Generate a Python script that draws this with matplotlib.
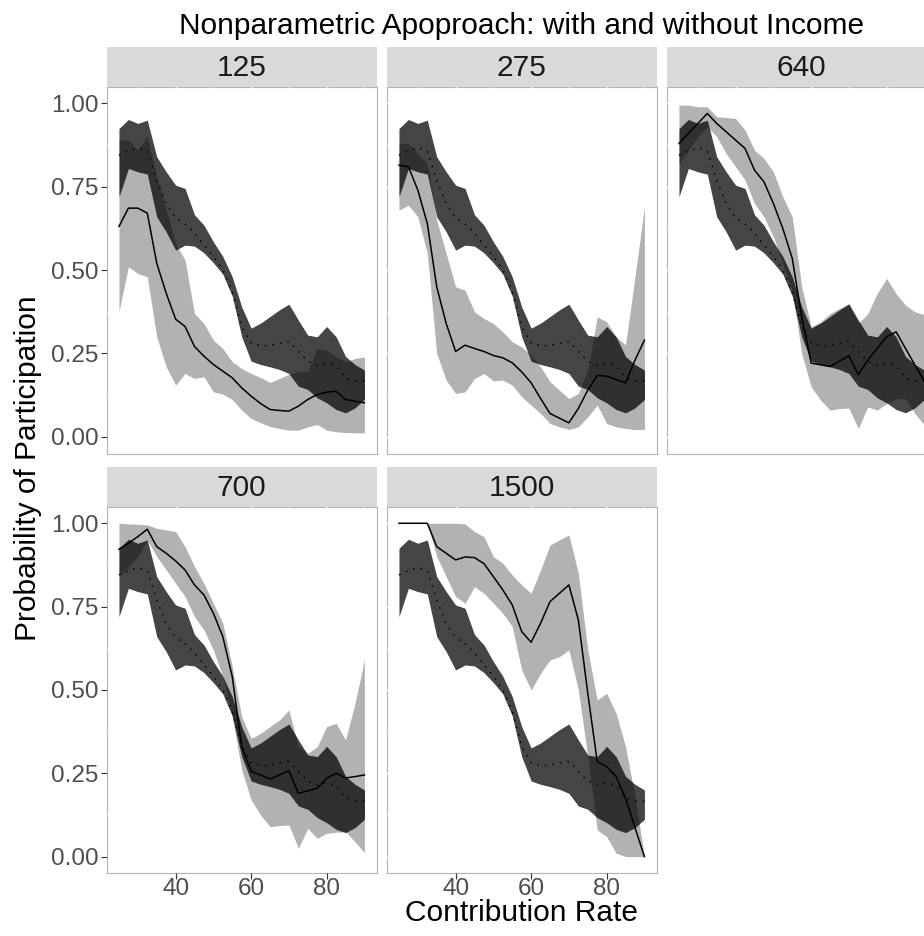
import matplotlib
matplotlib.use("Agg")
import matplotlib.pyplot as plt
from matplotlib.ticker import MultipleLocator

plt.rcParams['font.family'] = ['Liberation Sans', 'DejaVu Sans']

# Contribution-rate grid (percent)
rate = [25, 27.5, 30, 32.5, 35, 37.5, 40, 42.5, 45, 47.5, 50, 52.5, 55, 57.5,
        60, 62.5, 65, 67.5, 70, 72.5, 75, 77.5, 80, 82.5, 85, 87.5, 90]

# Pooled estimate without income (same in every panel)
pooled_fit = [0.845, 0.858, 0.867, 0.858, 0.770, 0.700, 0.656, 0.639, 0.611, 0.576,
              0.541, 0.501, 0.436, 0.331, 0.281, 0.273, 0.274, 0.281, 0.286, 0.256,
              0.227, 0.215, 0.222, 0.212, 0.177, 0.167, 0.167]
pooled_lo = [0.720, 0.805, 0.795, 0.788, 0.660, 0.615, 0.560, 0.575, 0.572, 0.552,
             0.522, 0.488, 0.422, 0.300, 0.227, 0.217, 0.210, 0.202, 0.190, 0.152,
             0.142, 0.117, 0.102, 0.082, 0.072, 0.087, 0.112]
pooled_hi = [0.925, 0.952, 0.940, 0.950, 0.840, 0.795, 0.755, 0.745, 0.666, 0.635,
             0.585, 0.541, 0.480, 0.390, 0.326, 0.341, 0.361, 0.381, 0.398, 0.350,
             0.305, 0.300, 0.331, 0.300, 0.241, 0.217, 0.200]

# Income-specific estimates
income_levels = ["125", "275", "640", "700", "1500"]

fit_125 = [0.631, 0.686, 0.686, 0.671, 0.521, 0.431, 0.353, 0.331, 0.271, 0.242,
           0.217, 0.197, 0.177, 0.147, 0.122, 0.100, 0.082, 0.079, 0.077, 0.092,
           0.112, 0.127, 0.134, 0.137, 0.112, 0.107, 0.102]
lo_125 = [0.376, 0.510, 0.490, 0.480, 0.300, 0.210, 0.155, 0.190, 0.175, 0.180,
          0.135, 0.128, 0.112, 0.080, 0.055, 0.042, 0.031, 0.025, 0.020, 0.020,
          0.030, 0.037, 0.020, 0.015, 0.013, 0.012, 0.012]
hi_125 = [0.890, 0.890, 0.860, 0.900, 0.780, 0.680, 0.580, 0.530, 0.370, 0.340,
          0.290, 0.265, 0.225, 0.205, 0.190, 0.178, 0.163, 0.175, 0.188, 0.195,
          0.197, 0.265, 0.260, 0.240, 0.225, 0.235, 0.240]

fit_275 = [0.815, 0.810, 0.740, 0.640, 0.450, 0.340, 0.256, 0.275, 0.265, 0.256,
           0.244, 0.237, 0.222, 0.195, 0.162, 0.115, 0.070, 0.056, 0.042, 0.085,
           0.140, 0.184, 0.182, 0.172, 0.162, 0.230, 0.290]
lo_275 = [0.680, 0.695, 0.660, 0.550, 0.250, 0.170, 0.130, 0.135, 0.175, 0.190,
          0.168, 0.170, 0.155, 0.120, 0.095, 0.070, 0.040, 0.030, 0.022, 0.030,
          0.060, 0.095, 0.040, 0.030, 0.025, 0.022, 0.022]
hi_275 = [0.880, 0.880, 0.850, 0.820, 0.650, 0.550, 0.450, 0.440, 0.375, 0.355,
          0.340, 0.315, 0.285, 0.270, 0.245, 0.210, 0.165, 0.140, 0.115, 0.130,
          0.200, 0.360, 0.345, 0.300, 0.276, 0.480, 0.690]

fit_640 = [0.880, 0.910, 0.940, 0.970, 0.940, 0.915, 0.890, 0.865, 0.800, 0.765,
           0.700, 0.625, 0.535, 0.360, 0.221, 0.216, 0.211, 0.227, 0.243, 0.186,
           0.230, 0.265, 0.300, 0.315, 0.265, 0.215, 0.166]
lo_640 = [0.820, 0.860, 0.900, 0.930, 0.900, 0.850, 0.810, 0.770, 0.700, 0.660,
          0.600, 0.520, 0.440, 0.250, 0.150, 0.110, 0.080, 0.085, 0.086, 0.025,
          0.090, 0.080, 0.100, 0.115, 0.115, 0.070, 0.035]
hi_640 = [0.995, 0.995, 0.990, 0.990, 0.960, 0.958, 0.955, 0.920, 0.860, 0.835,
          0.795, 0.720, 0.660, 0.450, 0.330, 0.345, 0.370, 0.385, 0.400, 0.340,
          0.370, 0.430, 0.475, 0.430, 0.395, 0.375, 0.366]

fit_700 = [0.922, 0.940, 0.960, 0.982, 0.930, 0.910, 0.887, 0.860, 0.815, 0.785,
           0.730, 0.660, 0.540, 0.330, 0.256, 0.245, 0.233, 0.245, 0.258, 0.190,
           0.197, 0.205, 0.235, 0.250, 0.236, 0.240, 0.245]
lo_700 = [0.840, 0.870, 0.900, 0.950, 0.900, 0.860, 0.820, 0.780, 0.720, 0.680,
          0.620, 0.540, 0.420, 0.260, 0.170, 0.125, 0.090, 0.093, 0.095, 0.025,
          0.085, 0.055, 0.070, 0.073, 0.075, 0.045, 0.012]
hi_700 = [1.000, 0.998, 0.997, 0.995, 0.985, 0.980, 0.975, 0.930, 0.870, 0.820,
          0.760, 0.700, 0.570, 0.420, 0.355, 0.370, 0.390, 0.410, 0.440, 0.330,
          0.310, 0.330, 0.390, 0.400, 0.350, 0.460, 0.590]

fit_1500 = [1.000, 1.000, 1.000, 1.000, 0.930, 0.910, 0.890, 0.899, 0.897, 0.879,
            0.840, 0.800, 0.755, 0.675, 0.643, 0.700, 0.765, 0.790, 0.815, 0.710,
            0.490, 0.285, 0.270, 0.240, 0.175, 0.087, 0.000]
lo_1500 = [1.000, 1.000, 1.000, 1.000, 0.900, 0.840, 0.780, 0.760, 0.810, 0.790,
           0.760, 0.730, 0.690, 0.560, 0.500, 0.550, 0.590, 0.600, 0.620, 0.500,
           0.300, 0.080, 0.060, 0.010, 0.000, 0.000, 0.000]
hi_1500 = [1.000, 1.000, 1.000, 1.000, 1.000, 1.000, 1.000, 0.998, 0.975, 0.960,
           0.900, 0.880, 0.845, 0.815, 0.790, 0.860, 0.935, 0.950, 0.965, 0.850,
           0.620, 0.470, 0.490, 0.430, 0.330, 0.180, 0.000]

income_fit = [fit_125, fit_275, fit_640, fit_700, fit_1500]
income_lo = [lo_125, lo_275, lo_640, lo_700, lo_1500]
income_hi = [hi_125, hi_275, hi_640, hi_700, hi_1500]

y_ticks = [0.0, 0.25, 0.50, 0.75, 1.00]
y_tick_labels = ["0.00", "0.25", "0.50", "0.75", "1.00"]
x_ticks = [40, 60, 80]

W, H = 924, 936
fig = plt.figure(figsize=(W / 100, H / 100), dpi=100)


def px_axes(left, top, w, h):
    return fig.add_axes([left / W, 1 - (top + h) / H, w / W, h / H])


col_left = [106.7, 386.7, 666.7]
panel_top = [86.8, 506.6]
panel_w, panel_h, strip_h = 270, 366.7, 40
cells = [(0, 0), (0, 1), (0, 2), (1, 0), (1, 1)]

xmin, xmax = min(rate), max(rate)
xpad = 0.05 * (xmax - xmin)

TICK_SIZE = 17.5
TITLE_SIZE = 21.5

for i, (r, c) in enumerate(cells):
    left, top = col_left[c], panel_top[r]
    ax = px_axes(left, top, panel_w, panel_h)
    ax.set_xlim(xmin - xpad, xmax + xpad)
    ax.set_ylim(-0.05, 1.05)

    ax.fill_between(rate, pooled_lo, pooled_hi, color='black', alpha=0.73,
                    linewidth=0, zorder=2)
    ax.fill_between(rate, income_lo[i], income_hi[i], color='black', alpha=0.30,
                    linewidth=0, zorder=2.1)
    ax.plot(rate, pooled_fit, color='black', linewidth=1.1,
            linestyle=(0, (1, 4)), zorder=3)
    ax.plot(rate, income_fit[i], color='black', linewidth=1.1, zorder=3)

    ax.set_facecolor('white')
    for s in ax.spines.values():
        s.set_color('#b3b3b3')
        s.set_linewidth(0.8)
        s.set_zorder(0.3)
    ax.xaxis.set_major_locator(MultipleLocator(20))
    ax.xaxis.set_minor_locator(MultipleLocator(10))
    ax.set_yticks(y_ticks)
    ax.yaxis.set_minor_locator(MultipleLocator(0.125))
    ax.grid(True, which='major', color='white', linewidth=1.0)
    ax.grid(True, which='minor', color='white', linewidth=0.6)
    ax.set_axisbelow(True)

    ax.tick_params(which='minor', length=0)
    ax.tick_params(which='major', color='#333333', length=4, width=0.8,
                   labelsize=TICK_SIZE, labelcolor='#4d4d4d', pad=2)
    ax.tick_params(axis='x', which='major', pad=-0.5)
    if c == 0:
        ax.set_yticklabels(y_tick_labels)
    else:
        ax.tick_params(axis='y', which='major', length=0, labelleft=False)
    if r == 1:
        ax.set_xticks(x_ticks)
        ax.set_xticklabels([str(t) for t in x_ticks])
    else:
        ax.tick_params(axis='x', which='major', length=0, labelbottom=False)

    sax = px_axes(left, top - strip_h, panel_w, strip_h)
    sax.set_facecolor('#d9d9d9')
    sax.set_xticks([])
    sax.set_yticks([])
    for s in sax.spines.values():
        s.set_visible(False)
    sax.text(0.5, 0.47, income_levels[i], ha='center', va='center',
             fontsize=TITLE_SIZE, color='#1a1a1a', transform=sax.transAxes)

area_cx = (col_left[0] + col_left[2] + panel_w) / 2
fig.text(area_cx / W, 1 - 26 / H, "Nonparametric Apoproach: with and without Income",
         ha='center', va='center', fontsize=TITLE_SIZE, color='black')
fig.text(area_cx / W, 1 - 921 / H, "Contribution Rate",
         ha='center', va='baseline', fontsize=TITLE_SIZE, color='black')
fig.text(28 / W, 1 - 468 / H, "Probability of Participation", rotation=90,
         ha='center', va='center', fontsize=TITLE_SIZE, color='black')

fig.savefig("out.png", dpi=100, facecolor='white')
